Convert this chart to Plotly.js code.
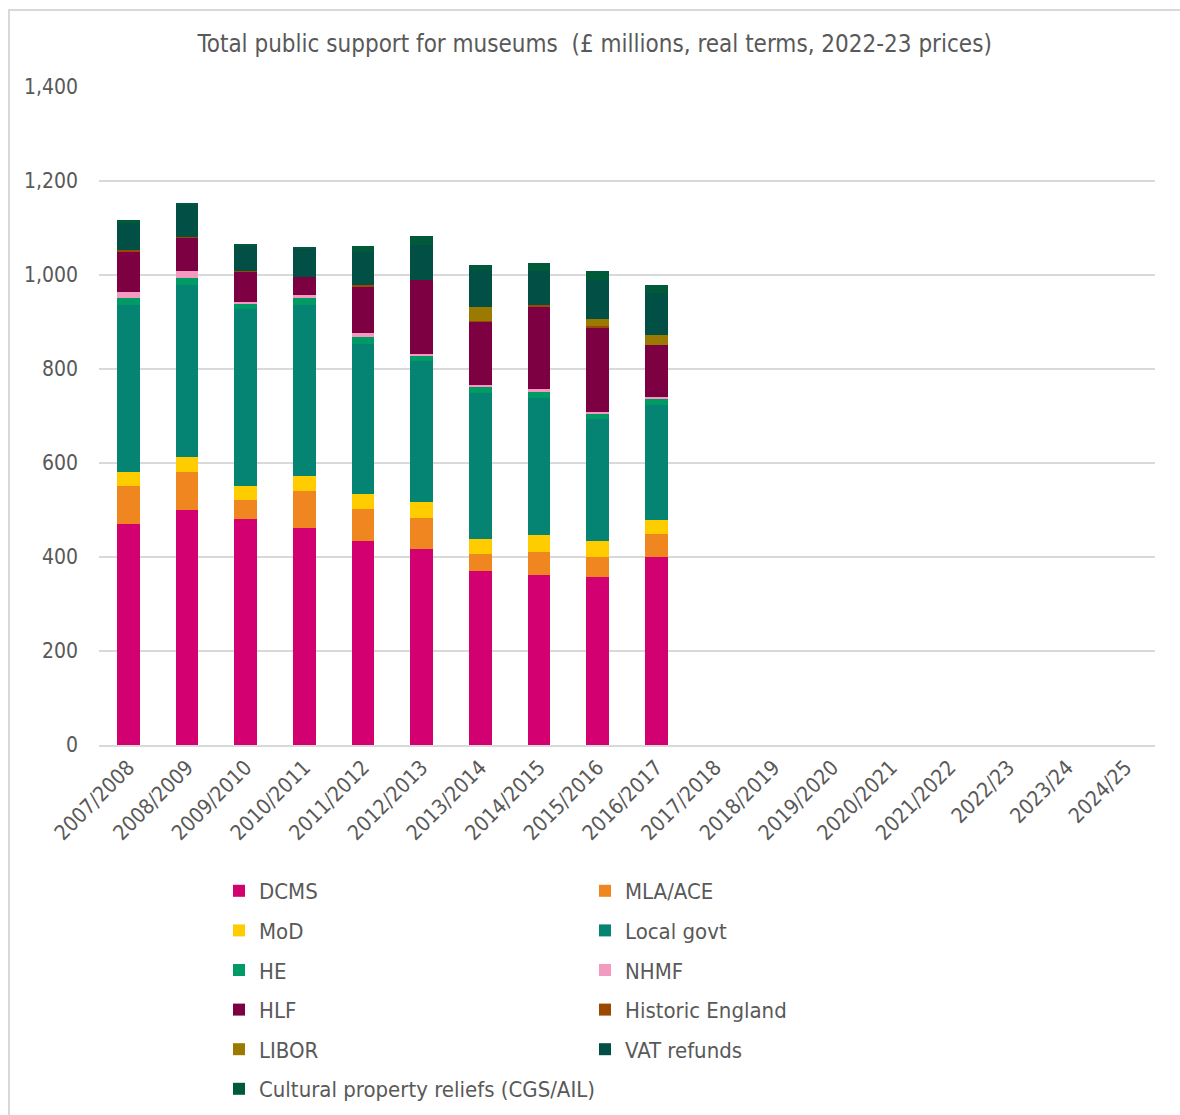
<!DOCTYPE html>
<html>
<head>
<meta charset="utf-8">
<script src="https://cdn.plot.ly/plotly-3.0.1.min.js"></script>
<style>
  html, body { margin: 0; padding: 0; background: #fff; }
  #wrap { position: relative; width: 1180px; height: 1115px; overflow: hidden; }
  #frame { position: absolute; left: 8px; top: 9px; right: -10px; bottom: -10px; border-left: 2px solid #d9d9d9; border-top: 2px solid #d9d9d9; pointer-events: none; }
  #chart { position: absolute; left: 0; top: 0; width: 1180px; height: 1115px; }
</style>
</head>
<body>
<div id="wrap">
  <div id="chart"></div>
  <div id="frame"></div>
</div>
<script>
const categories = ["2007/2008","2008/2009","2009/2010","2010/2011","2011/2012","2012/2013","2013/2014","2014/2015","2015/2016","2016/2017","2017/2018","2018/2019","2019/2020","2020/2021","2021/2022","2022/23","2023/24","2024/25"];

const dcms        = [470, 501, 481, 462, 434, 418, 371, 362, 358, 401, null, null, null, null, null, null, null, null];
const mlaAce      = [82, 80, 40, 79, 69, 66, 35, 49, 43, 48, null, null, null, null, null, null, null, null];
const mod         = [29, 32, 30, 31, 30, 32, 32, 35, 33, 30, null, null, null, null, null, null, null, null];
const localGovt   = [355, 366, 376, 364, 321, 300, 311, 293, 260, 244, null, null, null, null, null, null, null, null];
const he          = [16, 15, 12, 16, 15, 12, 13, 13, 12, 13, null, null, null, null, null, null, null, null];
const nhmf        = [12, 15, 3, 5, 7, 4, 5, 5, 3, 5, null, null, null, null, null, null, null, null];
const hlf         = [87, 70, 65, 39, 100, 157, 134, 177, 180, 110, null, null, null, null, null, null, null, null];
const historicEng = [2, 2, 2, 0, 2, 0, 1, 2, 2, 0, null, null, null, null, null, null, null, null];
const libor       = [0, 0, 0, 0, 0, 0, 30, 0, 15, 22, null, null, null, null, null, null, null, null];
const vatRefunds  = [57, 68, 54, 60, 72, 75, 78, 73, 83, 89, null, null, null, null, null, null, null, null];
const cultural    = [6, 5, 3, 3, 11, 20, 12, 17, 20, 17, null, null, null, null, null, null, null, null];

const seriesNames = ["DCMS","MLA/ACE","MoD","Local govt","HE","NHMF","HLF","Historic England","LIBOR","VAT refunds","Cultural property reliefs (CGS/AIL)"];
const seriesValues = [dcms, mlaAce, mod, localGovt, he, nhmf, hlf, historicEng, libor, vatRefunds, cultural];
const seriesColors = ["#D20070","#F0861F","#FFCC00","#058373","#009B64","#F29AC0","#7C0042","#9A4A00","#9A7A00","#024F45","#005A3A"];

const FONT = "'DejaVu Sans Condensed', 'DejaVu Sans', sans-serif";
const GREY = "#595959";

const traces = seriesNames.map((name, i) => ({
  type: "bar",
  name: name,
  x: categories,
  y: seriesValues[i],
  marker: { color: seriesColors[i], line: { width: 0 } },
  legend: (i % 2 === 0) ? "legend" : "legend2",
  legendgroup: "g" + i,
  hoverinfo: "x+y+name"
}));

const legendCommon = {
  orientation: "v",
  traceorder: "grouped",
  tracegroupgap: 8,
  font: { family: FONT, size: 22, color: GREY },
  bgcolor: "rgba(0,0,0,0)",
  borderwidth: 0,
  xref: "container",
  yref: "container",
  xanchor: "left",
  yanchor: "top",
  itemclick: false,
  itemdoubleclick: false
};

const layout = {
  width: 1180,
  height: 1115,
  margin: { l: 99, r: 25, t: 87, b: 370, autoexpand: false },
  paper_bgcolor: "rgba(0,0,0,0)",
  plot_bgcolor: "#ffffff",
  barmode: "stack",
  bargap: 0.61,
  font: { family: FONT, color: GREY, size: 21 },
  title: {
    text: "Total public support for museums  (£ millions, real terms, 2022-23 prices)",
    font: { family: FONT, size: 24, color: GREY },
    x: 0.504, xanchor: "center",
    y: 1 - 44 / 1115, yanchor: "middle",
    xref: "container", yref: "container"
  },
  xaxis: {
    type: "category",
    tickangle: -45,
    tickfont: { family: FONT, size: 21, color: GREY },
    showgrid: false,
    showline: true,
    linecolor: "#d9d9d9",
    linewidth: 2,
    ticks: "",
    automargin: false
  },
  yaxis: {
    range: [0, 1400],
    tickvals: [0, 200, 400, 600, 800, 1000, 1200, 1400],
    ticktext: ["0", "200", "400", "600", "800", "1,000", "1,200", "1,400"],
    tickfont: { family: FONT, size: 21, color: GREY },
    showgrid: true,
    gridcolor: "#d9d9d9",
    gridwidth: 2,
    zeroline: false,
    showline: false,
    ticks: "",
    ticklabelstandoff: 20,
    automargin: false
  },
  legend: Object.assign({}, legendCommon, { x: 219 / 1180, y: 1 - 870 / 1115 }),
  legend2: Object.assign({}, legendCommon, { x: 585 / 1180, y: 1 - 870 / 1115 }),
  showlegend: true
};

Plotly.newPlot("chart", traces, layout, { displayModeBar: false });
</script>
</body>
</html>
